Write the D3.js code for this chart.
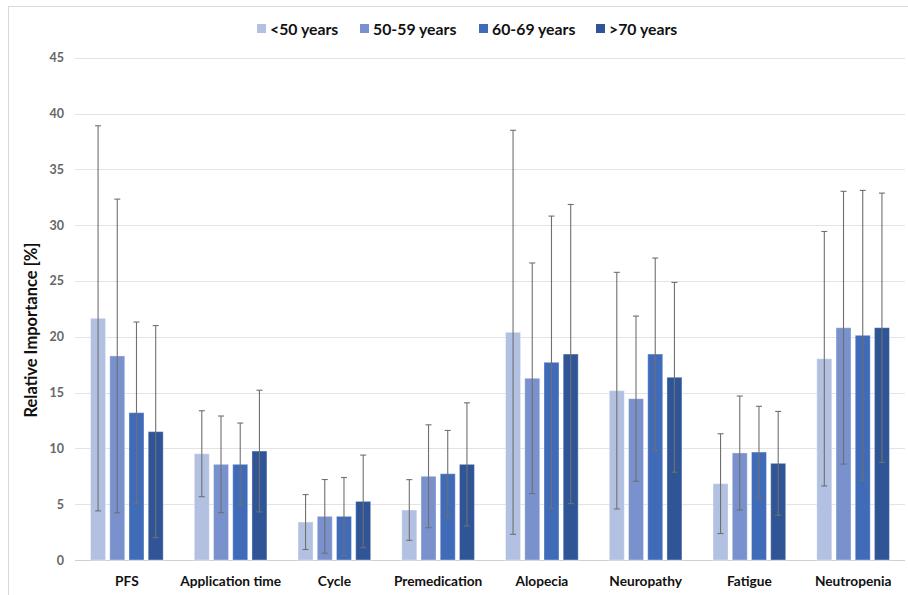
<!DOCTYPE html>
<html><head><meta charset="utf-8">
<script src="https://cdn.jsdelivr.net/npm/d3@7"></script>
<style>body{margin:0;background:#fff;} svg{display:block;font-family:Lato,"Open Sans",sans-serif;}</style>
</head><body>
<svg id="c" width="908" height="595"></svg>
<script>
const categories = ["PFS","Application time","Cycle","Premedication","Alopecia","Neuropathy","Fatigue","Neutropenia"];
const seriesNames = ["<50 years","50-59 years","60-69 years",">70 years"];
const colors = ["#b2c0e1","#7991cd","#3f6bb9","#2f5597"];
const means = [
  [21.65, 9.52, 3.40, 4.48, 20.40, 15.17, 6.84, 18.03],
  [18.28, 8.57, 3.91, 7.50, 16.28, 14.45, 9.59, 20.81],
  [13.20, 8.57, 3.91, 7.73, 17.71, 18.45, 9.67, 20.13],
  [11.50, 9.76, 5.25, 8.57, 18.45, 16.37, 8.66, 20.81]
];
const sds = [
  [17.25, 3.85, 2.46, 2.72, 18.10, 10.60, 4.47, 11.40],
  [14.05, 4.33, 3.30, 4.61, 10.33, 7.40, 5.10, 12.22],
  [8.12, 3.70, 3.48, 3.88, 13.10, 8.60, 4.10, 12.98],
  [9.50, 5.45, 4.15, 5.51, 13.40, 8.50, 4.65, 12.06]
];
const yTicks = [0,5,10,15,20,25,30,35,40,45];

const svg = d3.select("#c");
// outer frame
svg.append("rect").attr("x",8.5).attr("y",6.5).attr("width",920).attr("height",620)
  .attr("fill","none").attr("stroke","#d9d9d9").attr("stroke-width",1);

const pLeft = 75, pRight = 905, pTop = 57.7, pBottom = 560;
const y = d3.scaleLinear().domain([0,45]).range([pBottom, pTop]);
const x0 = d3.scaleBand().domain(categories).range([pLeft,pRight]).paddingInner(0.3).paddingOuter(0.15);
const x1 = d3.scaleBand().domain(d3.range(4)).range([0,x0.bandwidth()]).paddingInner(0.22);

// gridlines
svg.append("g").selectAll("line").data(yTicks).join("line")
  .attr("x1",pLeft).attr("x2",pRight).attr("y1",d=>Math.round(y(d))+0.5).attr("y2",d=>Math.round(y(d))+0.5)
  .attr("stroke",d=>d===0?"#d0d0d0":"#e3e3e3").attr("stroke-width",1);

// y axis labels
const yAxis = d3.axisLeft(y).tickValues(yTicks).tickSize(0).tickPadding(11);
const gy = svg.append("g").attr("transform",`translate(${pLeft},0)`).call(yAxis);
gy.select(".domain").remove();
gy.selectAll("text").attr("font-size",12.5).attr("font-weight","bold").attr("fill","#666")
  .attr("font-family","Lato,'Open Sans',sans-serif");

// y title
svg.append("text").attr("transform","translate(37,330) rotate(-90)").attr("text-anchor","middle")
  .attr("font-size",16.5).attr("font-weight","bold").attr("fill","#111").text("Relative Importance [%]");

// x labels
const xAxis = d3.axisBottom(x0).tickSize(0).tickPadding(0);
const gx = svg.append("g").attr("transform",`translate(0,${pBottom})`).call(xAxis);
gx.select(".domain").remove();
gx.selectAll("text").attr("dy",null).attr("y",26).attr("font-size",13.7).attr("font-weight","bold").attr("fill","#111")
  .attr("font-family","Lato,'Open Sans',sans-serif");

// bars
const data = [];
categories.forEach((c,ci)=>seriesNames.forEach((s,si)=>data.push({c,si,m:means[si][ci],sd:sds[si][ci]})));
const g = svg.append("g");
g.selectAll("rect").data(data).join("rect")
  .attr("x",d=>x0(d.c)+x1(d.si)).attr("width",x1.bandwidth())
  .attr("y",d=>y(d.m)).attr("height",d=>y(0)-y(d.m))
  .attr("fill",d=>colors[d.si]).attr("stroke","#ffffff").attr("stroke-opacity",0.35).attr("stroke-width",1);

// error bars
const eb = svg.append("g").attr("stroke","#707070").attr("stroke-width",1.1);
data.forEach(d=>{
  const cx = x0(d.c)+x1(d.si)+x1.bandwidth()/2;
  const yt = y(d.m+d.sd), yb = y(Math.max(0,d.m-d.sd));
  eb.append("line").attr("x1",cx).attr("x2",cx).attr("y1",yt).attr("y2",yb);
  eb.append("line").attr("x1",cx-3).attr("x2",cx+3).attr("y1",yt).attr("y2",yt);
  eb.append("line").attr("x1",cx-3).attr("x2",cx+3).attr("y1",yb).attr("y2",yb);
});

// legend
const legX = [257,360,479,596];
const lg = svg.append("g");
seriesNames.forEach((s,i)=>{
  lg.append("rect").attr("x",legX[i]).attr("y",24).attr("width",9).attr("height",9).attr("fill",colors[i]);
  lg.append("text").attr("x",legX[i]+13).attr("y",34.5).attr("font-size",15.8).attr("font-weight","bold")
    .attr("fill","#111").text(s);
});
</script>
</body></html>
